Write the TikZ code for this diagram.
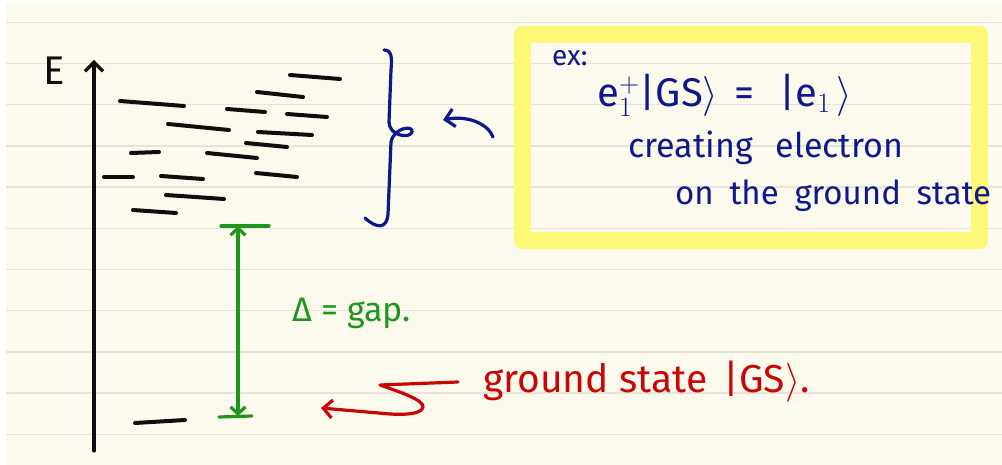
\documentclass[tikz,border=0pt]{standalone}
\usepackage{fix-cm}
\usepackage{fontspec}
\setmainfont{Fira Sans}
\usetikzlibrary{arrows.meta}
\definecolor{paper}{RGB}{252,250,237}
\definecolor{ruling}{RGB}{230,228,218}
\definecolor{ink}{RGB}{14,14,14}
\definecolor{navy}{RGB}{12,24,140}
\definecolor{leaf}{RGB}{30,150,30}
\definecolor{brick}{RGB}{200,6,6}
\definecolor{marker}{RGB}{253,249,118}
\newcommand\ketr{$\rangle$}
\begin{document}
\begin{tikzpicture}[x=1pt,y=-1pt,
  level/.style={ink,line width=4pt,line cap=round},
  pen/.style={line width=3.2pt,line cap=round,line join=round},
  barb/.style={-{Straight Barb[length=9pt,width=18pt]}},
  hand/.style={inner sep=0pt,anchor=base west}]

% page and ruled lines
\clip (0,0) rectangle (1002,465);
\useasboundingbox (0,0) rectangle (1002,465);
\fill[white] (0,0) rectangle (1002,465);
\fill[paper] (6,3) rectangle (1002,465);
\foreach \k in {0,...,10}
  \draw[ruling,line width=1.4pt] (6,22.3+41.2*\k) -- (1002,22.3+41.2*\k);

% energy axis
\coordinate (axbot) at (94,451);
\coordinate (axtop) at (94,60);
\draw[ink,pen,barb] (axbot) -- (axtop);
\node[hand,ink,font=\fontsize{40}{40}\selectfont] (E) at (43,85) {E};

% excited levels
\foreach \xa/\ya/\xb/\yb in {
  290/75/340/79, 257/92/303/97, 120/101/184/106, 227/109/265/112,
  287/114/327/117, 168/124/229/130, 258/132/312/135, 246/143/287/147,
  131/153/159/152, 207/153/257/158, 104/177/133/177, 161/176/203/179,
  256/173/297/177, 166/195/224/199, 133/210/176/213}
  \draw[level] (\xa,\ya) -- (\xb,\yb);

% ground level
\draw[level] (135,423) -- (185,420);

% gap
\coordinate (gt) at (238,226);
\coordinate (gb) at (238,416);
\draw[leaf,pen] (221,226) -- (269,226);
\draw[leaf,pen] (219,417) -- (252,416);
\draw[leaf,pen,{Straight Barb[length=7pt,width=15pt]}-{Straight Barb[length=7pt,width=15pt]}] (gt) -- (gb);
\node[hand,leaf,font=\fontsize{34}{34}\selectfont] (gap) at (292,321) {Δ = gap.};

% brace over the excited levels
\draw[navy,pen] (384,50) .. controls (392,50) and (392,58) .. (391,70)
  -- (389,122) .. controls (389,136) and (410,139) .. (412,132)
  .. controls (414,125) and (394,127) .. (391,142)
  -- (388,214) .. controls (387,229) and (377,229) .. (365,218);
\coordinate (bs) at (493,137);
\coordinate (bt) at (443,120);
\draw[navy,pen,barb] (bs) .. controls (488,124) and (468,115) .. (bt);

% example box
\draw[marker,line width=17pt,line join=round] (522,34.5) rectangle (979.5,240.5);
\node[hand,navy,font=\fontsize{28}{28}\selectfont] (ex) at (552,66) {ex:};
\node[hand,navy,font=\fontsize{40}{40}\selectfont] (eq) at (597,107)
  {e$_{1}^{+}$|GS\ketr\hspace{6pt} = \hspace{14pt}|e$_{1}$\hspace{6pt}\ketr};
\node[hand,navy,font=\fontsize{34}{34}\selectfont] (l2) at (628,158)
  {creating \hspace{14pt}electron};
\node[hand,navy,font=\fontsize{33}{33}\selectfont] (l3) at (675,205)
  {on \hspace{7pt}the \hspace{7pt}ground \hspace{7pt}state};

% ground state label
\coordinate (rs) at (458,382);
\coordinate (rt) at (321,408);
\draw[brick,pen,barb] (rs) -- (380,385) .. controls (400,392) and (424,400) .. (423,407)
  .. controls (422,414) and (405,415) .. (390,414) -- (rt);
\node[hand,brick,font=\fontsize{39}{39}\selectfont] (gs) at (483,392)
  {ground state \hspace{6pt}|GS\ketr.};
\end{tikzpicture}
\end{document}
